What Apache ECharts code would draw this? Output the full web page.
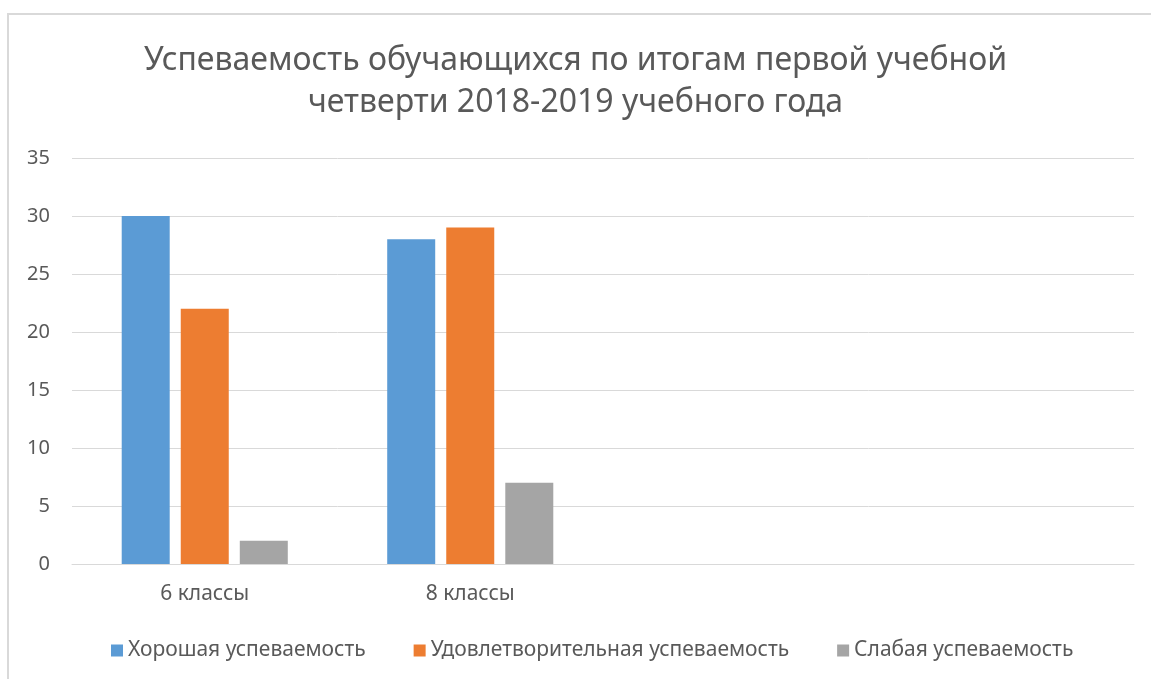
<!DOCTYPE html>
<html>
<head>
<meta charset="utf-8">
<script src="https://cdn.jsdelivr.net/npm/echarts@6/dist/echarts.min.js"></script>
<style>
html, body { margin: 0; padding: 0; background: #fff; }
#main { width: 1151px; height: 679px; }
</style>
</head>
<body>
<div id="main"></div>
<script>
// данные
var categories = ['6 классы', '8 классы', '', ''];
var good = [30, 28];
var satisfactory = [22, 29];
var weak = [2, 7];
var seriesNames = ['Хорошая успеваемость', 'Удовлетворительная успеваемость', 'Слабая успеваемость'];

var chart = echarts.init(document.getElementById('main'));
var font = 'Noto Sans';
var textColor = '#595959';

var option = {
    animation: false,
    textStyle: { fontFamily: font },
    graphic: [{
        type: 'rect',
        shape: { x: 8, y: 14, width: 1200, height: 700 },
        style: { fill: 'none', stroke: '#d9d9d9', lineWidth: 2 },
        silent: true
    }],
    title: {
        text: 'Успеваемость обучающихся по итогам первой учебной\nчетверти 2018-2019 учебного года',
        left: 'center',
        top: 35,
        textStyle: {
            fontFamily: font,
            fontSize: 32,
            fontWeight: 'normal',
            color: textColor,
            lineHeight: 42,
            align: 'center',
            padding: [0, 0, 0, 14]
        }
    },
    legend: {
        data: seriesNames,
        left: 106,
        top: 635,
        itemWidth: 12,
        itemHeight: 12,
        itemGap: 48,
        icon: 'rect',
        textStyle: { fontFamily: font, fontSize: 21, color: textColor }
    },
    grid: { left: 72, right: 17, top: 158, bottom: 115 },
    xAxis: {
        type: 'category',
        data: categories,
        axisLine: { lineStyle: { color: '#d9d9d9', width: 1 } },
        axisTick: { show: false },
        axisLabel: { fontFamily: font, fontSize: 21, color: textColor, margin: 20 }
    },
    yAxis: {
        type: 'value',
        min: 0,
        max: 35,
        interval: 5,
        axisLine: { show: false },
        axisTick: { show: false },
        splitLine: { lineStyle: { color: '#d9d9d9', width: 1 } },
        axisLabel: { fontFamily: font, fontSize: 20, color: textColor, margin: 22 }
    },
    series: [
        { name: seriesNames[0], type: 'bar', data: good, barWidth: 48, barGap: '23%', itemStyle: { color: '#5b9bd5' } },
        { name: seriesNames[1], type: 'bar', data: satisfactory, barWidth: 48, barGap: '23%', itemStyle: { color: '#ed7d31' } },
        { name: seriesNames[2], type: 'bar', data: weak, barWidth: 48, barGap: '23%', itemStyle: { color: '#a5a5a5' } }
    ]
};

chart.setOption(option);
</script>
</body>
</html>
